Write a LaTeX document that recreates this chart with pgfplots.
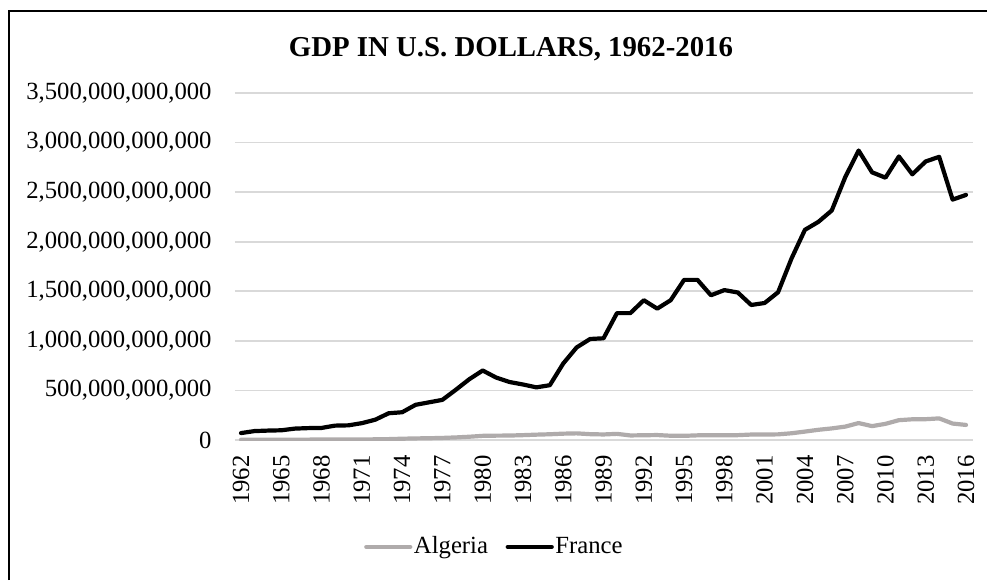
\documentclass[border=0pt]{standalone}
\usepackage{pgfplots}
\pgfplotsset{compat=1.18}
\usepackage{fontspec}
\setmainfont{Liberation Serif}
\definecolor{alg}{RGB}{175,171,171}
\definecolor{gridc}{RGB}{217,217,217}
\begin{document}
\begin{tikzpicture}
\useasboundingbox (0,0) rectangle (493.5pt,-290pt);
\draw[black, line width=0.9pt] (4.5pt,-290pt) -- (4.5pt,-5.5pt) -- (493.5pt,-5.5pt);
\node[anchor=base, font=\fontsize{14.4}{17}\selectfont\bfseries, inner sep=0pt] at (255.5pt,-28.35pt) {GDP IN U.S. DOLLARS, 1962-2016};
\begin{axis}[
  at={(117.5pt,-220pt)}, anchor=south west,
  scale only axis, width=369pt, height=173.5pt,
  xmin=1961.55, xmax=2016.52, ymin=0, ymax=3500,
  axis line style={draw=none},
  ytick={0,500,...,3500},
  yticklabels={0,{500,000,000,000},{1,000,000,000,000},{1,500,000,000,000},{2,000,000,000,000},{2,500,000,000,000},{3,000,000,000,000},{3,500,000,000,000}},
  xtick={1962,1965,...,2016},
  xticklabels={1962,1965,1968,1971,1974,1977,1980,1983,1986,1989,1992,1995,1998,2001,2004,2007,2010,2013,2016},
  ymajorgrids, grid style={gridc, line width=0.8pt},
  major tick length=0pt,
  tick label style={font=\fontsize{12.35}{14}\selectfont},
  xticklabel style={rotate=90, anchor=east, inner sep=0pt},
  xticklabel shift=7.5pt,
  yticklabel style={anchor=east, inner sep=0pt},
  yticklabel shift=11.5pt,
  legend style={at={(0.1745,-0.308)}, anchor=west, draw=none, fill=none, inner sep=0pt,
    nodes={inner sep=0.8pt},
    font=\fontsize{12.35}{14}\selectfont, /tikz/every even column/.append style={column sep=8pt}},
  legend columns=2,
  legend image code/.code={\draw[#1] (1pt,0pt) -- (23pt,0pt);},
  every axis plot/.append style={line width=2.1pt, line join=round, line cap=round},
]
\addplot[alg] coordinates {
(1962,3) (1963,3) (1964,4) (1965,4) (1966,4) (1967,4) (1968,5) (1969,5) (1970,5) (1971,5)
(1972,7) (1973,9) (1974,13) (1975,16) (1976,18) (1977,21) (1978,26) (1979,33) (1980,42) (1981,44)
(1982,45) (1983,49) (1984,54) (1985,58) (1986,64) (1987,67) (1988,59) (1989,56) (1990,62) (1991,46)
(1992,48) (1993,50) (1994,43) (1995,42) (1996,47) (1997,48) (1998,48) (1999,49) (2000,55) (2001,55)
(2002,57) (2003,68) (2004,85) (2005,103) (2006,117) (2007,135) (2008,171) (2009,140) (2010,163) (2011,200)
(2012,209) (2013,210) (2014,218) (2015,166) (2016,152)
};
\addlegendentry{Algeria}
\addplot[black] coordinates {
(1962,70) (1963,90) (1964,95) (1965,98) (1966,115) (1967,120) (1968,122) (1969,145) (1970,148) (1971,170)
(1972,205) (1973,270) (1974,280) (1975,355) (1976,380) (1977,405) (1978,507) (1979,613) (1980,701) (1981,630)
(1982,585) (1983,560) (1984,531) (1985,553) (1986,772) (1987,934) (1988,1019) (1989,1026) (1990,1280) (1991,1280)
(1992,1410) (1993,1325) (1994,1410) (1995,1615) (1996,1615) (1997,1460) (1998,1512) (1999,1488) (2000,1362) (2001,1382)
(2002,1490) (2003,1830) (2004,2120) (2005,2200) (2006,2315) (2007,2650) (2008,2920) (2009,2700) (2010,2646) (2011,2860)
(2012,2680) (2013,2810) (2014,2856) (2015,2425) (2016,2472)
};
\addlegendentry{France}
\end{axis}
\end{tikzpicture}
\end{document}
